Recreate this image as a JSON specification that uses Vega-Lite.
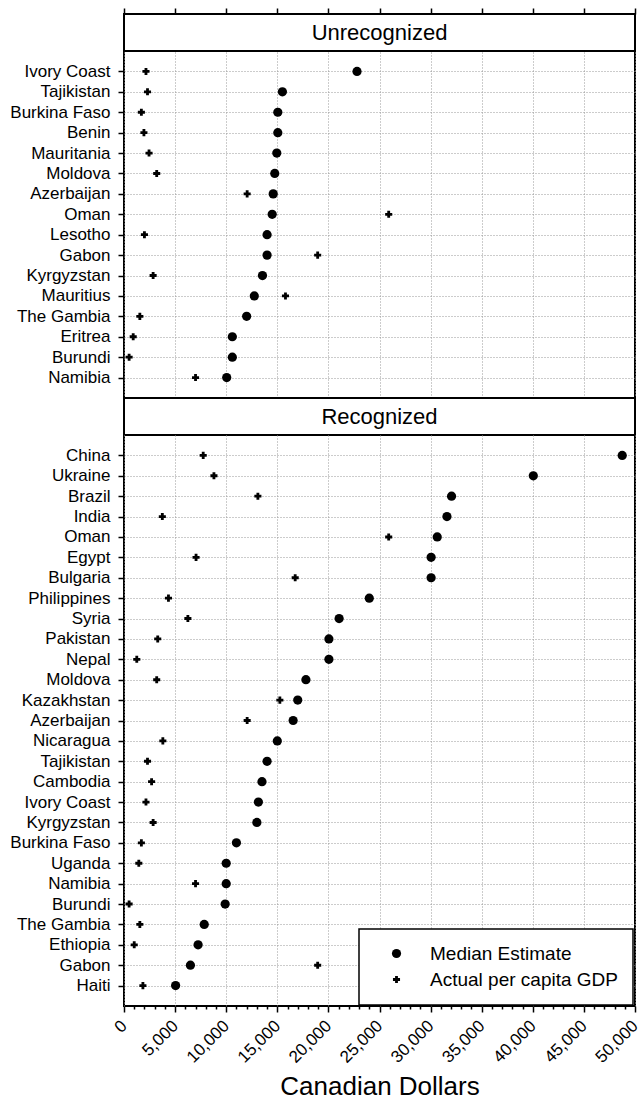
{
  "$schema": "https://vega.github.io/schema/vega-lite/v6.json",
  "padding": {"left": 8, "top": 6, "right": 4, "bottom": 1},
  "background": "white",
  "spacing": 0,
  "bounds": "flush",
  "config": {
    "font": "Liberation Sans",
    "view": {"stroke": "black", "strokeWidth": 2},
    "axis": {"labelColor": "black", "tickColor": "black", "titleColor": "black", "labelFont": "Liberation Sans", "titleFont": "Liberation Sans"},
    "legend": {"strokeWidth": 1.5, "strokeColor": "black", "fillColor": "white"}
  },
  "resolve": {
    "scale": {"x": "independent", "y": "independent", "shape": "independent", "size": "independent"},
    "axis": {"x": "independent", "y": "independent"},
    "legend": {"shape": "independent", "size": "independent"}
  },
  "datasets": {
    "unrec": [
      {"country": "Ivory Coast", "median": 22800, "actual": 2150},
      {"country": "Tajikistan", "median": 15500, "actual": 2300},
      {"country": "Burkina Faso", "median": 15050, "actual": 1700},
      {"country": "Benin", "median": 15050, "actual": 1950},
      {"country": "Mauritania", "median": 14950, "actual": 2450},
      {"country": "Moldova", "median": 14750, "actual": 3200},
      {"country": "Azerbaijan", "median": 14600, "actual": 12050},
      {"country": "Oman", "median": 14500, "actual": 25900},
      {"country": "Lesotho", "median": 14000, "actual": 2000},
      {"country": "Gabon", "median": 14000, "actual": 18950},
      {"country": "Kyrgyzstan", "median": 13550, "actual": 2850},
      {"country": "Mauritius", "median": 12750, "actual": 15800},
      {"country": "The Gambia", "median": 12000, "actual": 1550},
      {"country": "Eritrea", "median": 10600, "actual": 900},
      {"country": "Burundi", "median": 10600, "actual": 500},
      {"country": "Namibia", "median": 10050, "actual": 7000}
    ],
    "rec": [
      {"country": "China", "median": 48750, "actual": 7750},
      {"country": "Ukraine", "median": 40050, "actual": 8800},
      {"country": "Brazil", "median": 32050, "actual": 13100},
      {"country": "India", "median": 31600, "actual": 3750},
      {"country": "Oman", "median": 30650, "actual": 25900},
      {"country": "Egypt", "median": 30050, "actual": 7050},
      {"country": "Bulgaria", "median": 30050, "actual": 16750},
      {"country": "Philippines", "median": 24000, "actual": 4350},
      {"country": "Syria", "median": 21050, "actual": 6250},
      {"country": "Pakistan", "median": 20050, "actual": 3300},
      {"country": "Nepal", "median": 20050, "actual": 1250},
      {"country": "Moldova", "median": 17800, "actual": 3200},
      {"country": "Kazakhstan", "median": 17000, "actual": 15250},
      {"country": "Azerbaijan", "median": 16550, "actual": 12050},
      {"country": "Nicaragua", "median": 15000, "actual": 3800},
      {"country": "Tajikistan", "median": 14000, "actual": 2300},
      {"country": "Cambodia", "median": 13500, "actual": 2700},
      {"country": "Ivory Coast", "median": 13150, "actual": 2150},
      {"country": "Kyrgyzstan", "median": 13000, "actual": 2850},
      {"country": "Burkina Faso", "median": 11000, "actual": 1700},
      {"country": "Uganda", "median": 10000, "actual": 1450},
      {"country": "Namibia", "median": 10000, "actual": 7000},
      {"country": "Burundi", "median": 9900, "actual": 500},
      {"country": "The Gambia", "median": 7850, "actual": 1550},
      {"country": "Ethiopia", "median": 7250, "actual": 1000},
      {"country": "Gabon", "median": 6500, "actual": 18950},
      {"country": "Haiti", "median": 5050, "actual": 1850}
    ]
  },
  "vconcat": [
    {
      "width": 511,
      "height": 37,
      "data": {"values": [{"label": "Unrecognized"}]},
      "mark": {"type": "text", "fontSize": 22, "font": "Liberation Sans", "color": "black"},
      "encoding": {
        "text": {"field": "label"},
        "x": {
          "datum": 25000, "type": "quantitative",
          "scale": {"domain": [0, 50000], "nice": false},
          "axis": {"orient": "top", "tickCount": 10, "labels": false, "domain": false, "grid": false, "ticks": true, "tickSize": 6, "tickWidth": 1.5, "title": null}
        }
      }
    },
    {
      "width": 511,
      "height": 347,
      "data": {"name": "unrec"},
      "transform": [{"fold": ["median", "actual"], "as": ["key", "value"]}],
      "mark": {"type": "point", "filled": true, "opacity": 1, "color": "black"},
      "encoding": {
        "x": {
          "field": "value", "type": "quantitative",
          "scale": {"domain": [0, 50000], "nice": false},
          "axis": {"orient": "bottom", "tickCount": 10, "labels": false, "ticks": false, "domain": false, "grid": true, "gridDash": [1, 2], "gridColor": "#999999", "gridOpacity": 1, "title": null}
        },
        "y": {
          "field": "country", "type": "nominal", "sort": null,
          "scale": {"type": "point", "padding": 1},
          "axis": {"title": null, "labelFontSize": 17, "labelPadding": 8, "tickSize": 6, "tickWidth": 1.5, "domain": false, "grid": true, "gridDash": [1, 2], "gridColor": "#999999", "gridOpacity": 1, "labelLimit": 300}
        },
        "shape": {"field": "key", "type": "nominal", "scale": {"domain": ["median", "actual"], "range": ["circle", "cross"]}, "legend": null},
        "size": {"field": "key", "type": "nominal", "scale": {"type": "ordinal", "domain": ["median", "actual"], "range": [85, 50]}, "legend": null}
      }
    },
    {
      "width": 511,
      "height": 37,
      "data": {"values": [{"label": "Recognized"}]},
      "mark": {"type": "text", "fontSize": 22, "font": "Liberation Sans", "color": "black"},
      "encoding": {
        "text": {"field": "label"},
        "x": {
          "datum": 25000, "type": "quantitative",
          "scale": {"domain": [0, 50000], "nice": false},
          "axis": null
        }
      }
    },
    {
      "width": 511,
      "height": 571,
      "data": {"name": "rec"},
      "transform": [{"fold": ["median", "actual"], "as": ["key", "value"]}],
      "mark": {"type": "point", "filled": true, "opacity": 1, "color": "black"},
      "encoding": {
        "x": {
          "field": "value", "type": "quantitative",
          "scale": {"domain": [0, 50000], "nice": false},
          "axis": {
            "orient": "bottom",
            "values": [0, 1000, 2000, 3000, 4000, 5000, 6000, 7000, 8000, 9000, 10000, 11000, 12000, 13000, 14000, 15000, 16000, 17000, 18000, 19000, 20000, 21000, 22000, 23000, 24000, 25000, 26000, 27000, 28000, 29000, 30000, 31000, 32000, 33000, 34000, 35000, 36000, 37000, 38000, 39000, 40000, 41000, 42000, 43000, 44000, 45000, 46000, 47000, 48000, 49000, 50000],
            "labelExpr": "datum.value % 5000 === 0 ? format(datum.value, ',') : ''",
            "labelOverlap": false,
            "labelBound": false,
            "labelFlush": false,
            "labelAngle": -45,
            "labelAlign": "right",
            "labelBaseline": "middle",
            "labelFontSize": 17,
            "labelPadding": 11,
            "tickSize": {"condition": {"test": "datum.value % 5000 === 0", "value": 6}, "value": 3},
            "tickWidth": 1.5,
            "domain": false,
            "grid": true,
            "gridDash": [1, 2],
            "gridColor": "#999999",
            "gridOpacity": {"condition": {"test": "datum.value % 5000 === 0", "value": 1}, "value": 0},
            "title": "Canadian Dollars",
            "titleFontSize": 26,
            "titleFontWeight": "normal",
            "titlePadding": 8
          }
        },
        "y": {
          "field": "country", "type": "nominal", "sort": null,
          "scale": {"type": "point", "padding": 1},
          "axis": {"title": null, "labelFontSize": 17, "labelPadding": 8, "tickSize": 6, "tickWidth": 1.5, "domain": false, "grid": true, "gridDash": [1, 2], "gridColor": "#999999", "gridOpacity": 1, "labelLimit": 300}
        },
        "shape": {
          "field": "key", "type": "nominal",
          "scale": {"domain": ["median", "actual"], "range": ["circle", "cross"]},
          "legend": {"title": null, "orient": "none", "legendX": 235, "legendY": 494, "direction": "vertical", "padding": 15, "strokeColor": "black", "fillColor": "white", "labelFontSize": 19, "labelFont": "Liberation Sans", "labelColor": "black", "symbolOffset": 13, "labelOffset": 24, "rowPadding": 6, "labelLimit": 300, "labelExpr": "datum.label == 'median' ? 'Median Estimate' : 'Actual per capita GDP'"}
        },
        "size": {
          "field": "key", "type": "nominal",
          "scale": {"type": "ordinal", "domain": ["median", "actual"], "range": [85, 50]},
          "legend": {"title": null, "orient": "none", "legendX": 235, "legendY": 494, "direction": "vertical", "padding": 15, "strokeColor": "black", "fillColor": "white", "labelFontSize": 19, "labelFont": "Liberation Sans", "labelColor": "black", "symbolOffset": 13, "labelOffset": 24, "rowPadding": 6, "labelLimit": 300, "labelExpr": "datum.label == 'median' ? 'Median Estimate' : 'Actual per capita GDP'"}
        }
      }
    }
  ]
}
